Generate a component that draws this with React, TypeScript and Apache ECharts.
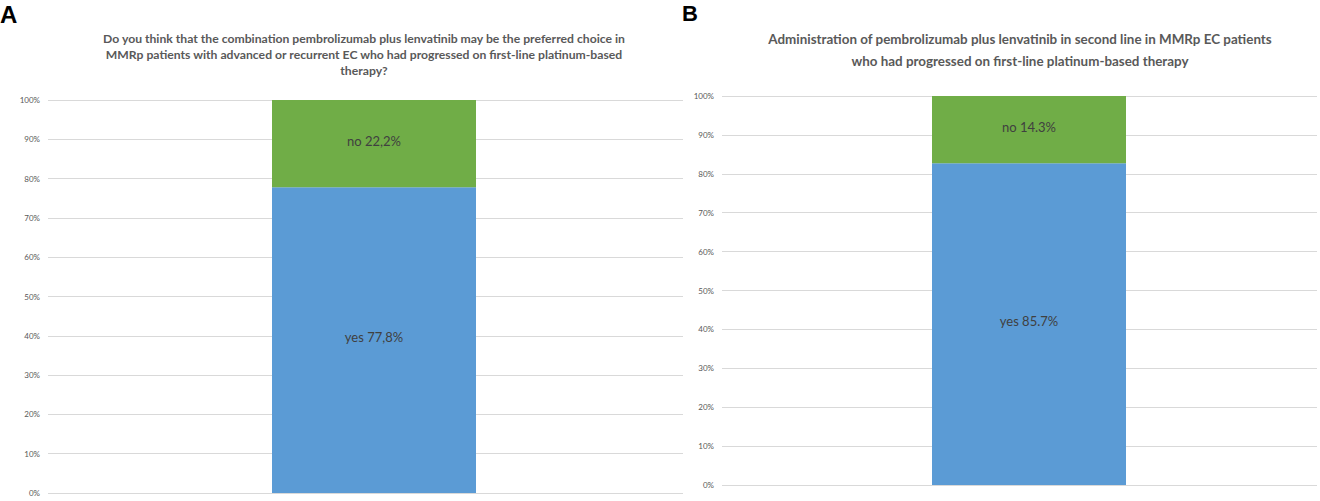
import React, { useEffect, useRef } from "react";
import * as echarts from "echarts";

const yTicks = ["0%", "10%", "20%", "30%", "40%", "50%", "60%", "70%", "80%", "90%", "100%"];
const categoriesA = ["A"];
const yesA = [77.8];
const noA = [22.2];
const yesLabelA = ["yes 77,8%"];
const noLabelA = ["no 22,2%"];

const categoriesB = ["B"];
const yesB = [82.7];
const noB = [17.3];
const yesLabelB = ["yes 85.7%"];
const noLabelB = ["no 14.3%"];

const titleA =
  "Do you think that the combination pembrolizumab plus lenvatinib may be the preferred choice in\nMMRp patients with advanced or recurrent EC who had progressed on first-line platinum-based\ntherapy?";
const titleB =
  "Administration of pembrolizumab plus lenvatinib in second line in MMRp EC patients\nwho had progressed on first-line platinum-based therapy";

const BLUE = "#5B9BD5";
const GREEN = "#70AD47";
const FONT = "Lato, 'Open Sans', sans-serif";

export default function App() {
  const ref = useRef<HTMLDivElement>(null);
  useEffect(() => {
    document.body.style.margin = "0";
    if (!ref.current) return;
    const chart = echarts.init(ref.current, null, { renderer: "svg" });
    const axisLabelStyle = {
      color: "#595959",
      fontSize: 8,
      fontFamily: FONT,
      margin: 8,
      formatter: (v: number) => yTicks[Math.round(v / 10)] ?? "",
    };
    const valueAxis = (gridIndex: number, show: boolean) => ({
      type: "value",
      gridIndex,
      min: 0,
      max: 100,
      interval: 10,
      show,
      axisLine: { show: false },
      axisTick: { show: false },
      axisLabel: axisLabelStyle,
      splitLine: { show, lineStyle: { color: "#D9D9D9", width: 1 } },
    });
    const catAxis = (gridIndex: number, data: string[]) => ({
      type: "category",
      gridIndex,
      data,
      axisLine: { show: false },
      axisTick: { show: false },
      axisLabel: { show: false },
      splitLine: { show: false },
    });
    const labelStyle = (texts: string[]) => ({
      show: true,
      position: "inside",
      offset: [0, -3],
      color: "#404040",
      fontSize: 13,
      fontFamily: FONT,
      formatter: (p: any) => texts[p.dataIndex],
    });
    chart.setOption({
      animation: false,
      backgroundColor: "#ffffff",
      title: [
        {
          text: titleA,
          left: 359,
          top: 25,
          textAlign: "center",
          textStyle: { fontSize: 12.2, fontWeight: "bold", color: "#595959", fontFamily: FONT, lineHeight: 16 },
        },
        {
          text: titleB,
          left: 1015,
          top: 23,
          textAlign: "center",
          textStyle: { fontSize: 13.4, fontWeight: "bold", color: "#595959", fontFamily: FONT, lineHeight: 22 },
        },
      ],
      graphic: [
        {
          type: "text",
          left: 0,
          top: 2,
          style: { text: "A", fill: "#000", font: "bold 24px 'Liberation Sans', Arial, sans-serif" },
        },
        {
          type: "text",
          left: 682,
          top: 2,
          style: { text: "B", fill: "#000", font: "bold 22px 'Liberation Sans', Arial, sans-serif" },
        },
      ],
      grid: [
        { left: 48, width: 635, top: 100, height: 393 },
        { left: 65, width: 618, top: 100, height: 393 },
        { left: 722, width: 595, top: 96, height: 389 },
        { left: 741, width: 576, top: 96, height: 389 },
      ],
      xAxis: [
        catAxis(0, categoriesA),
        catAxis(1, categoriesA),
        catAxis(2, categoriesB),
        catAxis(3, categoriesB),
      ],
      yAxis: [valueAxis(0, true), valueAxis(1, false), valueAxis(2, true), valueAxis(3, false)],
      series: [
        {
          type: "bar",
          xAxisIndex: 1,
          yAxisIndex: 1,
          stack: "a",
          barWidth: 204,
          data: yesA,
          itemStyle: { color: BLUE },
          label: labelStyle(yesLabelA),
        },
        {
          type: "bar",
          xAxisIndex: 1,
          yAxisIndex: 1,
          stack: "a",
          barWidth: 204,
          data: noA,
          itemStyle: { color: GREEN },
          label: labelStyle(noLabelA),
        },
        {
          type: "bar",
          xAxisIndex: 3,
          yAxisIndex: 3,
          stack: "b",
          barWidth: 194,
          data: yesB,
          itemStyle: { color: BLUE },
          label: labelStyle(yesLabelB),
        },
        {
          type: "bar",
          xAxisIndex: 3,
          yAxisIndex: 3,
          stack: "b",
          barWidth: 194,
          data: noB,
          itemStyle: { color: GREEN },
          label: labelStyle(noLabelB),
        },
      ],
    });
    return () => chart.dispose();
  }, []);
  return <div ref={ref} style={{ width: 1320, height: 501 }} />;
}
